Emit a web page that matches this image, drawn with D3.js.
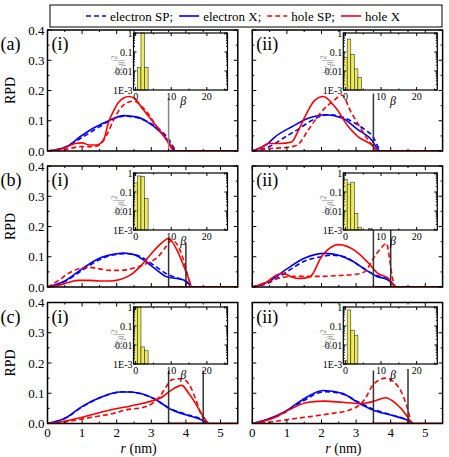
<!DOCTYPE html>
<html>
<head>
<meta charset="utf-8">
<script src="https://cdn.jsdelivr.net/npm/d3@7"></script>
<style>
  body { margin: 0; background: #fff; }
  svg text { font-family: "Liberation Serif", "Times New Roman", Times, serif; }
</style>
</head>
<body>
<svg width="449" height="457"></svg>
<script>
// ---- data ----
// curves: [r (nm), RPD]
var aiElecSP = [[0,0],[0.5,0.012],[1,0.045],[1.5,0.08],[1.8,0.1],[2.2,0.115],[2.6,0.11],[3,0.09],[3.3,0.065],[3.5,0.04],[3.65,0.01],[3.7,0]];
var aiElecX  = [[0,0],[0.55,0.014],[0.94,0.047],[1.32,0.075],[1.8,0.102],[2.2,0.117],[2.6,0.112],[2.87,0.097],[3.25,0.064],[3.44,0.04],[3.59,0.014],[3.68,0]];
var aiHoleSP = [[0,0],[0.5,0.005],[1,0.015],[1.3,0.014],[1.5,0.02],[1.7,0.05],[1.9,0.1],[2.1,0.14],[2.3,0.16],[2.5,0.165],[2.7,0.15],[2.9,0.125],[3.1,0.09],[3.3,0.06],[3.5,0.03],[3.66,0]];
var aiHoleX  = [[0,0],[0.5,0.01],[0.8,0.025],[1,0.027],[1.2,0.02],[1.4,0.02],[1.55,0.027],[1.65,0.045],[1.75,0.09],[1.9,0.13],[2.05,0.16],[2.2,0.175],[2.35,0.18],[2.5,0.175],[2.77,0.136],[3.16,0.08],[3.44,0.036],[3.63,0.003],[3.66,0]];

var aiiElecSP = [[0,0],[0.5,0.015],[1,0.05],[1.3,0.07],[1.7,0.1],[2.2,0.12],[2.6,0.112],[3,0.09],[3.26,0.07],[3.5,0.045],[3.65,0.01],[3.7,0]];
var aiiElecX  = [[0,0],[0.4,0.02],[0.66,0.047],[1.14,0.08],[1.62,0.108],[2.1,0.12],[2.58,0.11],[3.06,0.07],[3.45,0.036],[3.6,0.01],[3.68,0]];
var aiiHoleSP = [[0,0],[0.5,0.008],[1,0.012],[1.3,0.02],[1.62,0.07],[2,0.13],[2.39,0.17],[2.58,0.185],[2.87,0.125],[3.16,0.07],[3.35,0.036],[3.55,0.008],[3.62,0]];
var aiiHoleX  = [[0,0],[0.3,0.015],[0.46,0.025],[0.8,0.025],[1.14,0.03],[1.3,0.06],[1.52,0.113],[1.81,0.168],[2.05,0.18],[2.39,0.146],[2.78,0.08],[3.06,0.047],[3.45,0.02],[3.6,0.003],[3.64,0]];

var biElecSP = [[0,0],[0.5,0.018],[1,0.055],[1.5,0.09],[2,0.108],[2.3,0.11],[2.7,0.1],[3.1,0.07],[3.5,0.04],[3.8,0.028],[4,0.018],[4.15,0]];
var biElecX  = [[0,0],[0.5,0.02],[1,0.06],[1.5,0.095],[2,0.11],[2.2,0.112],[2.5,0.107],[2.77,0.09],[3.16,0.056],[3.44,0.034],[3.8,0.027],[4,0.02],[4.15,0]];
var biHoleSP = [[0,0],[0.3,0.02],[0.6,0.045],[0.9,0.06],[1.2,0.065],[1.5,0.06],[1.8,0.055],[2.1,0.055],[2.4,0.06],[2.7,0.07],[3,0.085],[3.2,0.1],[3.4,0.13],[3.6,0.155],[3.75,0.14],[3.9,0.1],[4,0.06],[4.1,0.02],[4.15,0]];
var biHoleX  = [[0,0],[0.3,0.005],[0.6,0.015],[0.9,0.022],[1.2,0.022],[1.5,0.02],[1.8,0.02],[2.1,0.025],[2.4,0.04],[2.7,0.07],[3,0.11],[3.2,0.135],[3.4,0.155],[3.5,0.162],[3.6,0.15],[3.75,0.12],[3.9,0.08],[4,0.05],[4.1,0.02],[4.15,0]];

var biiElecSP = [[0,0],[0.5,0.015],[1,0.05],[1.5,0.085],[2,0.1],[2.3,0.105],[2.7,0.098],[3.1,0.07],[3.5,0.042],[3.9,0.025],[4.15,0]];
var biiElecX  = [[0,0],[0.5,0.02],[1,0.06],[1.5,0.095],[2.1,0.111],[2.5,0.105],[2.9,0.085],[3.3,0.055],[3.6,0.035],[3.9,0.025],[4.15,0]];
var biiHoleSP = [[0,0],[0.4,0.015],[0.8,0.03],[1.2,0.035],[1.6,0.035],[2,0.035],[2.5,0.038],[3,0.042],[3.24,0.05],[3.53,0.1],[3.73,0.13],[3.88,0.144],[3.97,0.09],[4.05,0.03],[4.12,0]];
var biiHoleX  = [[0,0],[0.4,0.015],[0.7,0.04],[0.9,0.045],[1.1,0.035],[1.35,0.028],[1.67,0.034],[2,0.1],[2.2,0.125],[2.49,0.14],[2.97,0.12],[3.35,0.08],[3.63,0.045],[3.92,0.03],[4.05,0.01],[4.12,0]];

var ciElecSP = [[0,0],[0.55,0.02],[0.98,0.053],[1.52,0.085],[2.1,0.104],[2.3,0.105],[2.67,0.099],[3.16,0.077],[3.54,0.05],[4.02,0.03],[4.41,0.016],[4.65,0]];
var ciElecX  = [[0,0],[0.55,0.02],[0.98,0.055],[1.52,0.086],[2.1,0.104],[2.3,0.104],[2.67,0.1],[3.16,0.077],[3.54,0.048],[4.02,0.028],[4.41,0.014],[4.65,0]];
var ciHoleSP = [[0,0],[0.5,0.005],[1,0.015],[1.5,0.025],[1.9,0.033],[2.2,0.043],[2.88,0.057],[3.25,0.09],[3.44,0.123],[3.6,0.145],[3.88,0.148],[4.1,0.128],[4.3,0.075],[4.44,0.03],[4.6,0]];
var ciHoleX  = [[0,0],[0.3,0.004],[0.98,0.02],[1.9,0.047],[2.4,0.058],[2.88,0.07],[3.35,0.09],[3.54,0.107],[3.88,0.126],[4.08,0.1],[4.31,0.06],[4.46,0.03],[4.65,0]];

var ciiElecSP = [[0,0],[0.46,0.013],[0.95,0.037],[1.43,0.072],[2.1,0.105],[2.6,0.098],[3.08,0.07],[3.5,0.047],[4.03,0.028],[4.5,0.01],[4.65,0]];
var ciiElecX  = [[0,0],[0.46,0.015],[0.95,0.04],[1.43,0.077],[2.05,0.109],[2.6,0.1],[3.08,0.067],[3.5,0.044],[4.03,0.027],[4.5,0.01],[4.65,0]];
var ciiHoleSP = [[0,0],[0.6,0.006],[1.14,0.015],[2.1,0.03],[2.87,0.047],[3.27,0.083],[3.47,0.125],[3.85,0.15],[4.23,0.12],[4.47,0.055],[4.6,0]];
var ciiHoleX  = [[0,0],[0.65,0.02],[1.14,0.05],[1.62,0.07],[2.1,0.074],[2.6,0.07],[3.08,0.066],[3.27,0.067],[3.55,0.075],[3.85,0.085],[4.14,0.067],[4.47,0.025],[4.6,0]];

// vertical marker lines: positions (nm) and their tops (RPD)
var aiMarkR = [3.5],      aiMarkTop = [0.175];
var aiiMarkR = [3.5],     aiiMarkTop = [0.19];
var biMarkR = [3.5, 4.0], biMarkTop = [0.16, 0.145];
var biiMarkR = [3.5, 4.0],biiMarkTop = [0.19, 0.195];
var ciMarkR = [3.5, 4.5], ciMarkTop = [0.175, 0.175];
var ciiMarkR = [3.5, 4.5],ciiMarkTop = [0.175, 0.18];

// inset bars: beta and |c_beta|^2
var aiBeta = [1, 2, 3],            aiCoef = [0.015, 1, 0.015];
var aiiBeta = [0, 1, 2, 3, 4],     aiiCoef = [0.05, 0.48, 0.075, 0.013, 0.0045];
var biBeta = [0, 1, 2, 3],         biCoef = [0.3, 0.7, 0.65, 0.045];
var biiBeta = [0, 1, 2, 3, 4, 7],  biiCoef = [0.45, 0.26, 0.33, 0.0074, 0.0014, 0.0012];
var ciBeta = [0, 1, 2, 3],         ciCoef = [0.9, 1, 0.008, 0.005];
var ciiBeta = [0, 1, 2, 3],        ciiCoef = [0.0015, 0.7, 0.06, 0.033];

var rowLabels = ["(a)", "(b)", "(c)"];
var colLabels = ["(i)", "(ii)"];
var xTicks = [0, 1, 2, 3, 4, 5];
var yTicks = [0, 0.1, 0.2, 0.3, 0.4];
var insetXTicks = [0, 10, 20];
var insetYTicks = [1, 0.1, 0.01, 0.001];
var insetYLabels = ["1", "0.1", "0.01", "1E-3"];
var legendItems = ["electron SP;", "electron X;", "hole SP;", "hole X"];

// ---- layout ----
var colLeft = [47.5, 252.3];
var rowTop = [30, 166, 302.5];
var plotW = 190.3, plotH = 121;
var insetLeft = [86, 91], insetTop = [3, 7, 4.5];
var insetW = 94, insetH = 57;
var blue = "#0000ff", red = "#ff0000";

var panels = [
  {row: 0, col: 0, curves: [aiElecSP, aiElecX, aiHoleSP, aiHoleX], markR: aiMarkR, markTop: aiMarkTop, beta: aiBeta, coef: aiCoef, markColor: "#888"},
  {row: 0, col: 1, curves: [aiiElecSP, aiiElecX, aiiHoleSP, aiiHoleX], markR: aiiMarkR, markTop: aiiMarkTop, beta: aiiBeta, coef: aiiCoef},
  {row: 1, col: 0, curves: [biElecSP, biElecX, biHoleSP, biHoleX], markR: biMarkR, markTop: biMarkTop, beta: biBeta, coef: biCoef},
  {row: 1, col: 1, curves: [biiElecSP, biiElecX, biiHoleSP, biiHoleX], markR: biiMarkR, markTop: biiMarkTop, beta: biiBeta, coef: biiCoef},
  {row: 2, col: 0, curves: [ciElecSP, ciElecX, ciHoleSP, ciHoleX], markR: ciMarkR, markTop: ciMarkTop, beta: ciBeta, coef: ciCoef},
  {row: 2, col: 1, curves: [ciiElecSP, ciiElecX, ciiHoleSP, ciiHoleX], markR: ciiMarkR, markTop: ciiMarkTop, beta: ciiBeta, coef: ciiCoef}
];
var curveStyles = [
  {color: blue, dash: "5,3"},
  {color: blue, dash: null},
  {color: red, dash: "5,3"},
  {color: red, dash: null}
];

var svg = d3.select("svg");

function drawTicks(g, x, y, xMajor, xMinor, yMajor, yMinor, w, h, len) {
  var t = g.append("g").attr("stroke", "#000").attr("stroke-width", 1);
  xMajor.forEach(function(v) {
    t.append("line").attr("x1", x(v)).attr("x2", x(v)).attr("y1", h).attr("y2", h - len);
    t.append("line").attr("x1", x(v)).attr("x2", x(v)).attr("y1", 0).attr("y2", len);
  });
  xMinor.forEach(function(v) {
    t.append("line").attr("x1", x(v)).attr("x2", x(v)).attr("y1", h).attr("y2", h - len / 2);
    t.append("line").attr("x1", x(v)).attr("x2", x(v)).attr("y1", 0).attr("y2", len / 2);
  });
  yMajor.forEach(function(v) {
    t.append("line").attr("x1", 0).attr("x2", len).attr("y1", y(v)).attr("y2", y(v));
    t.append("line").attr("x1", w).attr("x2", w - len).attr("y1", y(v)).attr("y2", y(v));
  });
  yMinor.forEach(function(v) {
    t.append("line").attr("x1", 0).attr("x2", len / 2).attr("y1", y(v)).attr("y2", y(v));
    t.append("line").attr("x1", w).attr("x2", w - len / 2).attr("y1", y(v)).attr("y2", y(v));
  });
}

panels.forEach(function(p) {
  var g = svg.append("g")
    .attr("transform", "translate(" + colLeft[p.col] + "," + rowTop[p.row] + ")");
  var x = d3.scaleLinear().domain([0, 5.5]).range([0, plotW]);
  var y = d3.scaleLinear().domain([0, 0.4]).range([plotH, 0]);

  var clipId = "clip" + p.row + p.col;
  g.append("clipPath").attr("id", clipId)
    .append("rect").attr("width", plotW).attr("height", plotH);

  var line = d3.line()
    .x(function(d) { return x(d[0]); })
    .y(function(d) { return y(d[1]); })
    .curve(d3.curveMonotoneX);

  var plot = g.append("g").attr("clip-path", "url(#" + clipId + ")");
  // zero baseline beyond end of curves
  plot.append("line")
    .attr("x1", x(3.5)).attr("x2", x(5.5)).attr("y1", y(0)).attr("y2", y(0))
    .attr("stroke", red).attr("stroke-width", 2);

  p.curves.forEach(function(c, i) {
    plot.append("path")
      .datum(c)
      .attr("fill", "none")
      .attr("stroke", curveStyles[i].color)
      .attr("stroke-width", 1.6)
      .attr("stroke-dasharray", curveStyles[i].dash)
      .attr("d", line);
  });

  p.markR.forEach(function(r, i) {
    g.append("line")
      .attr("x1", x(r)).attr("x2", x(r))
      .attr("y1", y(0)).attr("y2", y(p.markTop[i]))
      .attr("stroke", p.markColor || "#333").attr("stroke-width", 1.5);
  });

  var xMinor = d3.range(0.5, 5.5, 1);
  var yMinor = [0.05, 0.15, 0.25, 0.35];
  drawTicks(g, x, y, xTicks, xMinor, yTicks, yMinor, plotW, plotH, 4);

  g.append("rect").attr("width", plotW).attr("height", plotH)
    .attr("fill", "none").attr("stroke", "#000").attr("stroke-width", 1.5);

  // y tick labels on left column
  if (p.col === 0) {
    yTicks.forEach(function(v) {
      g.append("text").attr("x", -3).attr("y", y(v)).attr("dy", "0.35em")
        .attr("text-anchor", "end").attr("font-size", 13).text(d3.format(".1f")(v));
    });
    g.append("text")
      .attr("transform", "translate(" + (-33) + "," + (plotH / 2) + ") rotate(-90)")
      .attr("text-anchor", "middle").attr("font-size", 14).text("RPD");
    g.append("text").attr("x", -47).attr("y", 20).attr("font-size", 18).text(rowLabels[p.row]);
  }
  if (p.row === 2) {
    xTicks.forEach(function(v) {
      g.append("text").attr("x", x(v)).attr("y", plotH + 13)
        .attr("text-anchor", "middle").attr("font-size", 13).text(v);
    });
    var xl = g.append("text").attr("x", plotW / 2 - 4).attr("y", plotH + 29)
      .attr("text-anchor", "middle").attr("font-size", 14);
    xl.append("tspan").attr("font-style", "italic").text("r");
    xl.append("tspan").text(" (nm)");
  }
  g.append("text").attr("x", 4).attr("y", 20).attr("font-size", 18).text(colLabels[p.col]);

  // inset
  var iw = insetW, ih = insetH;
  var ig = g.append("g")
    .attr("transform", "translate(" + insetLeft[p.col] + "," + insetTop[p.row] + ")");
  var ixs = d3.scaleLinear().domain([-0.6, 25.8]).range([0, iw]);
  var iys = d3.scaleLog().domain([0.001, 1]).range([ih, 0]);
  ig.append("rect").attr("width", iw).attr("height", ih).attr("fill", "#fff");
  ig.selectAll("rect.bar")
    .data(p.beta.map(function(b, i) { return [b, p.coef[i]]; }))
    .enter().append("rect").attr("class", "bar")
    .attr("x", function(d) { return ixs(d[0] - 0.5); })
    .attr("width", ixs(1) - ixs(0))
    .attr("y", function(d) { return iys(d[1]); })
    .attr("height", function(d) { return ih - iys(d[1]); })
    .attr("fill", "#ecec5a").attr("stroke", "#333").attr("stroke-width", 0.6);
  var logMinor = [];
  [0.001, 0.01, 0.1].forEach(function(d) { for (var k = 2; k < 10; k++) logMinor.push(d * k); });
  drawTicks(ig, ixs, iys, insetXTicks, [5, 15, 25], insetYTicks, logMinor, iw, ih, 3);
  ig.append("rect").attr("width", iw).attr("height", ih)
    .attr("fill", "none").attr("stroke", "#000").attr("stroke-width", 1.2);
  insetYTicks.forEach(function(v, i) {
    ig.append("text").attr("x", -1).attr("y", iys(v)).attr("dy", "0.35em")
      .attr("text-anchor", "end").attr("font-size", 10).text(insetYLabels[i]);
  });
  insetXTicks.forEach(function(v) {
    ig.append("text").attr("x", ixs(v)).attr("y", ih + 10)
      .attr("text-anchor", "middle").attr("font-size", 10).text(v);
  });
  ig.append("text").attr("x", ixs(12.5)).attr("y", ih + 15)
    .attr("font-size", 12).attr("font-style", "italic").text("\u03b2");
  var yl = ig.append("text")
    .attr("transform", "translate(-12," + (ih / 2 + 3) + ") rotate(-90)")
    .attr("text-anchor", "middle").attr("font-size", 12).attr("fill", "#888");
  yl.append("tspan").text("|c");
  yl.append("tspan").attr("font-style", "italic").attr("font-size", 8).attr("dy", 2).text("\u03b2");
  yl.append("tspan").attr("dy", -2).text("|");
  yl.append("tspan").attr("font-size", 8).attr("dy", -5).text("2");
});

// ---- legend: items laid out one after another, centred in the box ----
var lg = svg.append("g");
var boxX = 50, boxW = 392;
lg.append("rect").attr("x", boxX).attr("y", 5).attr("width", boxW).attr("height", 22)
  .attr("fill", "#fff").attr("stroke", "#000").attr("stroke-width", 1);
var items = lg.append("g");
var cursor = 0;
legendItems.forEach(function(name, i) {
  items.append("line").attr("x1", cursor).attr("x2", cursor + 20)
    .attr("y1", 16).attr("y2", 16)
    .attr("stroke", curveStyles[i].color).attr("stroke-width", 1.6)
    .attr("stroke-dasharray", curveStyles[i].dash);
  var t = items.append("text").attr("x", cursor + 24).attr("y", 20.5)
    .attr("font-size", 13).text(name);
  cursor += 24 + t.node().getComputedTextLength() + 6;
});
items.attr("transform", "translate(" + (boxX + (boxW - cursor) / 2) + ",0)");
</script>
</body>
</html>
